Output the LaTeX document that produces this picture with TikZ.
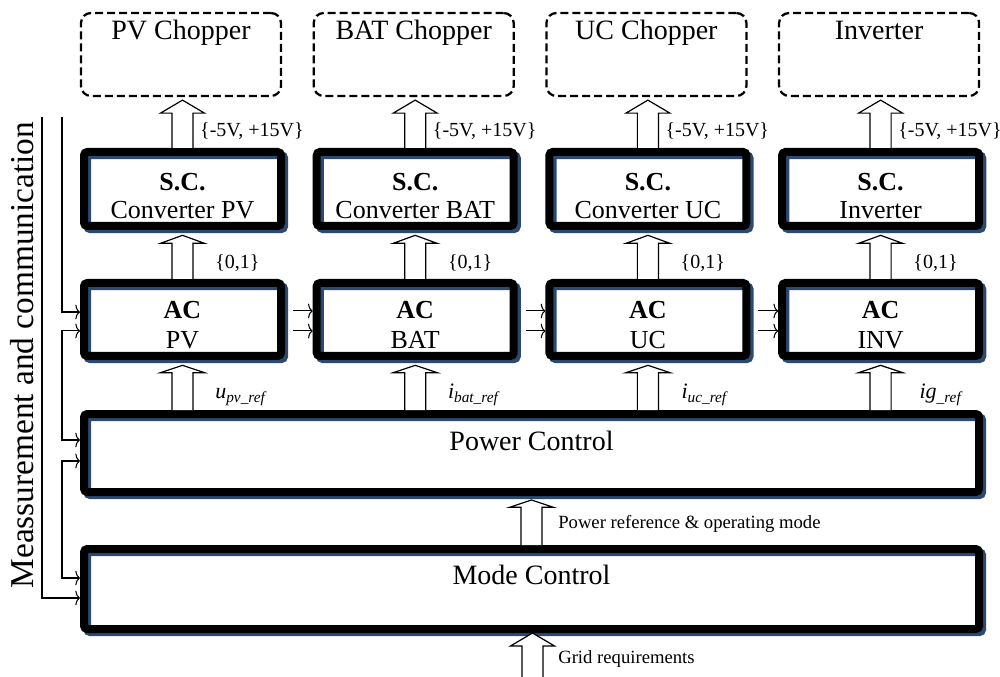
\documentclass[tikz,border=0pt]{standalone}
\usepackage{fontspec}
\setmainfont{Liberation Serif}
\usetikzlibrary{arrows.meta,calc}
\definecolor{shadowblue}{RGB}{44,74,112}
\newcommand{\fatarrow}[4]{%
  \draw[fatarr] let \p1=(#1), \p2=(#2) in
    (\x1-7.9pt,\y1) -- (\x1-7.9pt,\y2-#4-#3) -- (\x1-16.5pt,\y2-#4-#3) -- (\x1,\y2-#4)
    -- (\x1+16.5pt,\y2-#4-#3) -- (\x1+7.9pt,\y2-#4-#3) -- (\x1+7.9pt,\y1);}
\tikzset{
  blk/.style={draw=black, line width=6pt, rounded corners=2.5pt, inner sep=0pt,
    preaction={draw=shadowblue, line width=6pt, transform canvas={xshift=2.4pt,yshift=-2.4pt}}},
  scbox/.style={blk, minimum width=147.75pt, minimum height=55.5pt},
  acbox/.style={blk, minimum width=147.75pt, minimum height=54.75pt},
  widebox/.style={blk, minimum width=671.25pt},
  chop/.style={draw=black, line width=1.7pt, dash pattern=on 6pt off 3pt, rounded corners=7.5pt,
    minimum width=150pt, minimum height=62.25pt, inner sep=0pt},
  fatarr/.style={draw=black, line width=0.9pt, fill=white, line join=miter},
  bus/.style={draw=black, line width=0.8pt},
  barbto/.style={-{Computer Modern Rightarrow[length=3.5pt,width=11pt]}},
  barbboth/.style={{Computer Modern Rightarrow[length=3.5pt,width=11pt]}-{Computer Modern Rightarrow[length=3.5pt,width=11pt]}},
  lbl/.style={inner sep=0pt, anchor=base west, font=\fontsize{15}{17}\selectfont},
  slbl/.style={inner sep=0pt, anchor=base west, font=\fontsize{14}{16}\selectfont},
  boxtxt/.style={inner sep=0pt, anchor=base, font=\fontsize{19.5}{22}\selectfont},
  bigtxt/.style={inner sep=0pt, anchor=base, font=\fontsize{21}{24}\selectfont}
}
\begin{document}
\begin{tikzpicture}[x=0.75pt,y=-0.75pt]
\useasboundingbox (0,0) rectangle (1000,677);
% columns
\foreach \ttl/\scn/\acn/\mainl/\subl [count=\k from 1] in
  {PV Chopper/Converter PV/PV/u/pv\_ref,
   BAT Chopper/Converter BAT/BAT/i/bat\_ref,
   UC Chopper/Converter UC/UC/i/uc\_ref,
   Inverter/Inverter/INV/ig/\_ref}{
  \pgfmathsetmacro{\cx}{182.5+232.7*(\k-1)}
  \node[chop] (ch\k) at (\cx-1.5,54.5) {};
  \node[bigtxt] (cht\k) at ([yshift=-20.6pt]ch\k.north) {\ttl};
  \node[scbox] (sc\k) at (\cx,189) {};
  \node[boxtxt] (sca\k) at ([yshift=-31.9pt]sc\k.north) {\textbf{S.C.}};
  \node[boxtxt] (scb\k) at ([yshift=-53.25pt]sc\k.north) {\scn};
  \node[acbox] (ac\k) at (\cx,319.5) {};
  \node[boxtxt] (aca\k) at ([yshift=-29.6pt]ac\k.north) {\textbf{AC}};
  \node[boxtxt] (acb\k) at ([yshift=-52.1pt]ac\k.north) {\acn};
}
\node[widebox, minimum height=58.5pt] (pc) at (531.5,453) {};
\node[bigtxt] (pct) at ([yshift=-30pt]pc.north) {Power Control};
\node[widebox, minimum height=60pt] (mc) at (531.5,589) {};
\node[bigtxt] (mct) at ([yshift=-29.25pt]mc.north) {Mode Control};
\coordinate (gridin) at (532.5,677);
% fat arrows
\foreach \k in {1,2,3,4}{
  \fatarrow{sc\k.north}{ch\k.south}{9.75pt}{2.25pt}
  \fatarrow{ac\k.north}{sc\k.south}{6pt}{4pt}
  \fatarrow{ac\k.south |- pc.north}{ac\k.south}{5.5pt}{4pt}
  \node[lbl] (v\k) at ([xshift=13.1pt,yshift=8.5pt]sc\k.north) {\{-5V, +15V\}};
  \node[lbl] (z\k) at ([xshift=24.4pt,yshift=7.8pt]ac\k.north) {\{0,1\}};
}
\fatarrow{mc.north}{pc.south}{5.5pt}{3pt}
\fatarrow{gridin}{mc.south}{9.75pt}{0pt}
% reference labels
\node[inner sep=0pt, anchor=base west] (r1) at ([xshift=24.4pt,yshift=9pt]ac1.south |- pc.north)
  {\fontsize{16.5}{18}\selectfont\itshape u\raisebox{-3pt}{\fontsize{11.5}{13}\selectfont pv\_ref}};
\node[inner sep=0pt, anchor=base west] (r2) at ([xshift=24.4pt,yshift=9pt]ac2.south |- pc.north)
  {\fontsize{16.5}{18}\selectfont\itshape i\raisebox{-3pt}{\fontsize{11.5}{13}\selectfont bat\_ref}};
\node[inner sep=0pt, anchor=base west] (r3) at ([xshift=25pt,yshift=9pt]ac3.south |- pc.north)
  {\fontsize{16.5}{18}\selectfont\itshape i\raisebox{-3pt}{\fontsize{11.5}{13}\selectfont uc\_ref}};
\node[inner sep=0pt, anchor=base west] (r4) at ([xshift=29pt,yshift=9pt]ac4.south |- pc.north)
  {\fontsize{16.5}{18}\selectfont\itshape ig\raisebox{-3pt}{\fontsize{11.5}{13}\selectfont \_ref}};
\node[slbl] (prl) at ([xshift=19.9pt,yshift=12.75pt]mc.north) {Power reference \& operating mode};
\node[slbl] (grl) at ([xshift=19.9pt,yshift=-22.5pt]mc.south) {Grid requirements};
% inter-AC links
\foreach \a/\b in {1/2,2/3,3/4}{
  \draw[bus, barbto] ([xshift=6pt,yshift=6.4pt]ac\a.east) -- ([yshift=6.4pt]ac\b.west);
  \draw[bus, barbto] ([xshift=6pt,yshift=-8.6pt]ac\a.east) -- ([yshift=-8.6pt]ac\b.west);
}
% measurement bus
\coordinate (mout) at (42,117);
\coordinate (min) at (62,117);
\draw[bus, barbto] (mout) |- ([yshift=-6.75pt]mc.west);
\draw[bus, barbto] (min) |- ([yshift=5.6pt]ac1.west);
\draw[bus, barbboth] ([yshift=-8.6pt]ac1.west) -| (62,390) |- ([yshift=9.75pt]pc.west);
\draw[bus, barbboth] ([yshift=-6pt]pc.west) -| (62,520) |- ([yshift=8.25pt]mc.west);
\node[rotate=90, inner sep=0pt, font=\fontsize{25}{28}\selectfont] (meas) at (22,355) {Meassurement and communication};
\end{tikzpicture}
\end{document}
